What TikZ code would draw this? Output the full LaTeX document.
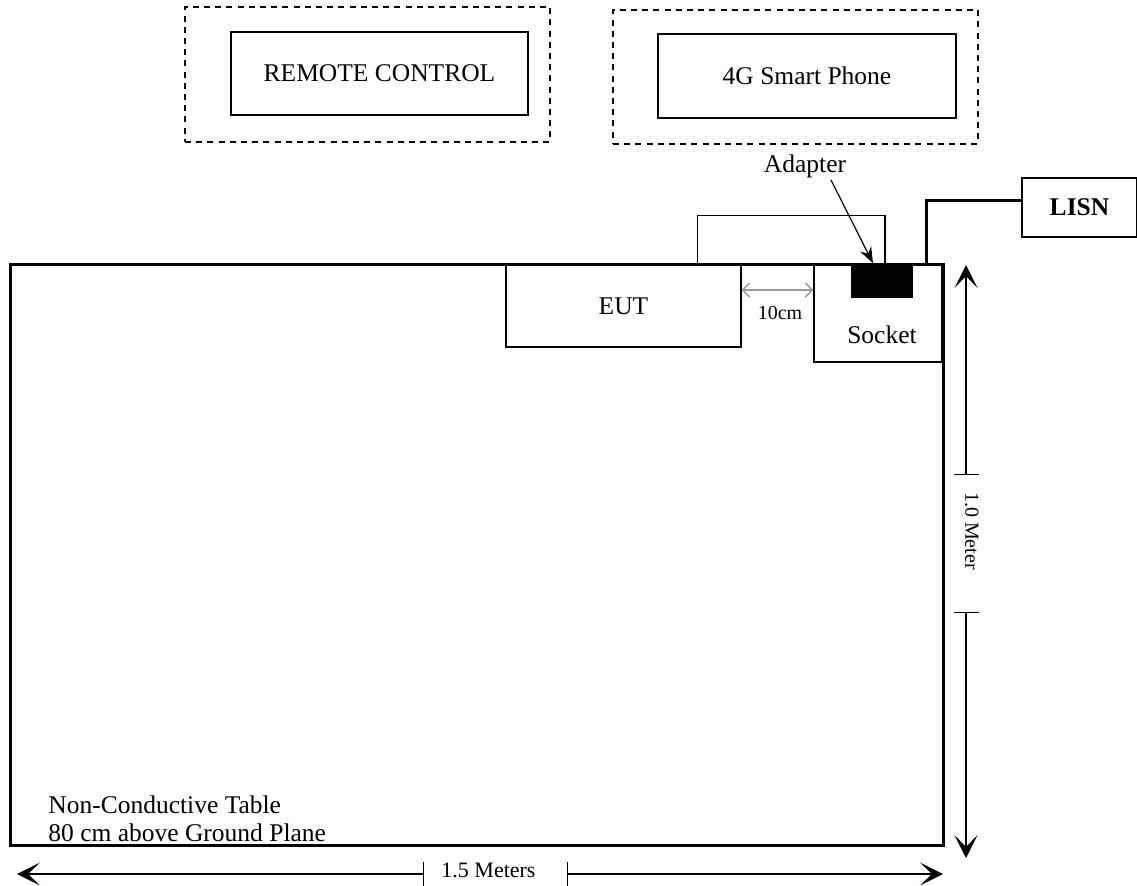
\documentclass[tikz,border=0pt]{standalone}
\usepackage{fontspec}
\setmainfont{Liberation Serif}
\usetikzlibrary{positioning, arrows.meta, calc}

\begin{document}
\begin{tikzpicture}[
    x=0.5pt, y=-0.5pt, font=\fontsize{12.75}{14}\selectfont,
    box/.style={draw, line width=0.7pt, inner sep=0pt, align=center},
    zone/.style={draw, dash pattern=on 3pt off 2.6pt, line width=0.7pt, inner sep=0pt},
    small/.style={font=\fontsize{10}{12}\selectfont, inner sep=0pt},
    cable/.style={line width=1.5pt},
    wire/.style={line width=0.7pt},
    dimarr/.style={line width=0.6pt, {Bar[width=12.5pt]}-{Stealth[length=11.5pt, width=11.5pt, inset=6pt]}},
    gaparr/.style={gray!80, line width=0.7pt, {Straight Barb[length=3.5pt, width=7pt]}-{Straight Barb[length=3.5pt, width=7pt]}},
    ptr/.style={line width=0.6pt, -{Stealth[length=8pt, width=6pt]}},
  ]
    \useasboundingbox (0,0) rectangle (1137,885);
    \node[zone, minimum width=182.5pt, minimum height=67.5pt] (rczone) at (367.5,74.5) {};
    \node[box, minimum width=148.5pt, minimum height=41.5pt] (rc) at (379.5,73.5) {REMOTE CONTROL};
    \node[zone, minimum width=182.5pt, minimum height=67pt] (phonezone) at (795.5,77) {};
    \node[box, minimum width=149pt, minimum height=42pt] (phone) at (807,76) {4G Smart Phone};
    \node[box, minimum width=117.5pt, minimum height=41pt] (eut) at (623.5,306) {EUT};
    \node[box, minimum width=64pt, minimum height=49pt] (socket) at (878,313) {};
    \node[inner sep=0pt] (socketlbl) at (882,335) {Socket};
    \node[box, fill=black, minimum width=30pt, minimum height=16.5pt] (adapter) at (882,280.5) {};
    \node[draw, line width=1.5pt, inner sep=0pt, minimum width=466.5pt, minimum height=290.5pt] (table) at (476.5,554.5) {};
    \node[anchor=west, align=left, inner sep=0pt] (tablelbl) at (48,819) {Non-Conductive Table\\80 cm above Ground Plane};
    \node[box, font=\fontsize{12.75}{14}\selectfont\bfseries, minimum width=57.5pt, minimum height=29.5pt] (lisn) at (1079.5,207.5) {LISN};
    \node[inner sep=0pt] (adapterlbl) at (805,166) {Adapter};
    \draw[wire] ($(eut.north west)!0.813!(eut.north east)$) -- ++(0,-49) -| ($(adapter.north west)!0.55!(adapter.north east)$);
    \draw[cable] ([xshift=24pt]socket.north) |- ([yshift=3.75pt]lisn.west);
    \draw[ptr] ($(adapterlbl.south)+(26,2)$) -- ([xshift=-4.5pt]adapter.north);
    \draw[gaparr] ([yshift=8pt]eut.east) -- ([yshift=8pt]eut.east -| socket.west);
    \node[small] (gaplbl) at (780,313) {10cm};
    \node[small, font=\fontsize{11}{12}\selectfont] (hlbl) at (488.5,870) {1.5 Meters};
    \coordinate (hleft) at (17,874);
    \coordinate (hright) at (943,874);
    \draw[dimarr] ($(hlbl.west |- hleft)+(-17,0)$) -- (hleft);
    \draw[dimarr] ($(hlbl.east |- hright)+(31,0)$) -- (hright);
    \node[small, rotate=-90] (vlbl) at (972,531) {1.0 Meter};
    \coordinate (vtop) at (966,265);
    \coordinate (vbot) at (966,858);
    \draw[dimarr] ($(vlbl.west -| vtop)+(0,-17)$) -- (vtop);
    \draw[dimarr] ($(vlbl.east -| vbot)+(0,42)$) -- (vbot);
  \end{tikzpicture}
\end{document}
